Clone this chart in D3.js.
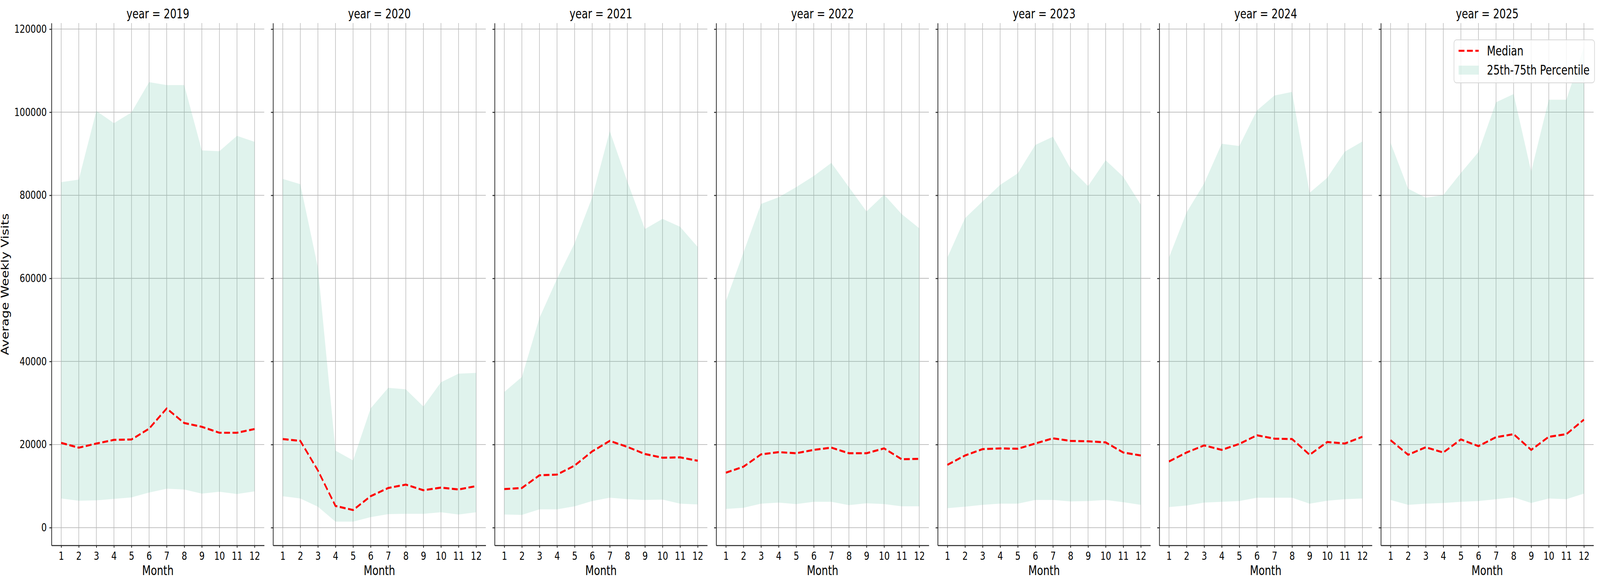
<!DOCTYPE html>
<html>
<head>
<meta charset="utf-8">
<script src="https://cdn.jsdelivr.net/npm/d3@7"></script>
<style>
  html, body { margin: 0; padding: 0; background: #fff; overflow: hidden; }
  svg { display: block; font-family: "DejaVu Sans", sans-serif; }
</style>
</head>
<body>
<div class="canvas"></div>
<script>
// months on the x axis and one panel per year
const months = [1, 2, 3, 4, 5, 6, 7, 8, 9, 10, 11, 12];
const years = [2019, 2020, 2021, 2022, 2023, 2024, 2025];
const yTicks = [0, 20000, 40000, 60000, 80000, 100000, 120000];

// median weekly visits, one row per year
const medianVisits = [
  [20400, 19240, 20230, 21120, 21210, 23820, 28670, 25170, 24270, 22830, 22830, 23730],
  [21320, 20870, 13760, 5220, 4230, 7560, 9540, 10350, 9000, 9630, 9180, 9990],
  [9270, 9540, 12590, 12770, 14930, 18350, 20870, 19430, 17720, 16820, 16910, 16100],
  [13220, 14660, 17630, 18170, 17900, 18710, 19250, 17900, 17900, 19070, 16460, 16550],
  [15110, 17360, 18890, 19070, 18980, 20240, 21500, 20870, 20780, 20510, 18080, 17360],
  [15920, 18080, 19790, 18710, 20150, 22220, 21410, 21320, 17540, 20600, 20240, 21860],
  [21050, 17540, 19340, 18080, 21230, 19610, 21770, 22490, 18710, 21860, 22490, 26000]
];

// 25th percentile
const p25Visits = [
  [7010, 6470, 6560, 6920, 7280, 8450, 9350, 9170, 8180, 8630, 8090, 8720],
  [7560, 7020, 5040, 1440, 1440, 2520, 3240, 3330, 3330, 3690, 3150, 3690],
  [3150, 3060, 4410, 4410, 5130, 6390, 7200, 6840, 6660, 6750, 5760, 5580],
  [4500, 4770, 5760, 6030, 5670, 6210, 6210, 5400, 5850, 5670, 5130, 5130],
  [4680, 5040, 5490, 5760, 5760, 6660, 6660, 6300, 6390, 6660, 6120, 5490],
  [4950, 5310, 6030, 6210, 6390, 7200, 7200, 7200, 5760, 6480, 6840, 7020],
  [6660, 5490, 5760, 5940, 6210, 6390, 6840, 7290, 5940, 7020, 6840, 8190]
];

// 75th percentile
const p75Visits = [
  [83150, 83780, 100300, 97350, 99950, 107240, 106520, 106520, 90790, 90610, 94300, 92860],
  [83930, 82670, 62610, 18530, 16190, 28700, 33650, 33290, 29150, 34990, 37060, 37240],
  [32660, 36250, 50470, 59910, 68460, 79520, 95450, 83300, 71880, 74310, 72420, 67560],
  [54520, 66210, 77910, 79520, 81950, 84650, 87800, 81950, 76110, 80150, 75480, 72060],
  [65040, 74490, 78530, 82490, 85280, 92120, 94100, 86450, 82220, 88430, 84470, 77730],
  [65040, 75840, 82850, 92390, 91850, 100400, 104000, 104890, 80600, 84200, 90500, 92930],
  [92660, 81590, 79430, 80060, 85370, 90410, 102380, 104360, 85730, 103000, 103000, 115700]
];

const width = 5250, height = 1500;
const left0 = 169, step = 727, panelW = 698;
const plotTop = 59, plotBottom = 1396;

// the window is narrower than the chart, so the drawing is scaled to fill it
const svg = d3.select('.canvas')
  .append('svg')
  .attr('viewBox', `0 0 ${width} ${height}`)
  .attr('preserveAspectRatio', 'none')
  .style('width', '100vw')
  .style('height', '100vh')
  .style('background', '#fff');

const x = d3.scaleLinear().domain([0.45, 12.55]).range([0, panelW]);
const y = d3.scaleLinear().domain([-4275, 121455]).range([plotBottom, plotTop]);

const area = d3.area()
  .x((d, i) => x(months[i]))
  .y0(d => y(d[0]))
  .y1(d => y(d[1]));

const line = d3.line()
  .x((d, i) => x(months[i]))
  .y(d => y(d));

years.forEach((year, k) => {
  const g = svg.append('g')
    .attr('transform', `translate(${left0 + k * step},0)`);

  // grid
  g.selectAll('.vgrid')
    .data(months)
    .join('line')
    .attr('x1', d => x(d)).attr('x2', d => x(d))
    .attr('y1', plotTop).attr('y2', plotBottom)
    .attr('stroke', '#b8b8b8')
    .attr('stroke-width', 1.8);

  g.selectAll('.hgrid')
    .data(yTicks)
    .join('line')
    .attr('x1', 0).attr('x2', panelW)
    .attr('y1', d => y(d)).attr('y2', d => y(d))
    .attr('stroke', '#b8b8b8')
    .attr('stroke-width', 1.8);

  // interquartile band
  const band = p25Visits[k].map((v, i) => [v, p75Visits[k][i]]);
  g.append('path')
    .datum(band)
    .attr('d', area)
    .attr('fill', '#66c2a5')
    .attr('fill-opacity', 0.2);

  // median
  g.append('path')
    .datum(medianVisits[k])
    .attr('d', line)
    .attr('fill', 'none')
    .attr('stroke', '#ff0000')
    .attr('stroke-width', 5.2)
    .attr('stroke-dasharray', '19.2,8.3');

  // axes
  const xAxis = g.append('g')
    .attr('transform', `translate(0,${plotBottom})`)
    .call(d3.axisBottom(x).tickValues(months).tickSize(6).tickSizeOuter(0).tickPadding(11.5));

  const yAxis = g.append('g')
    .call(d3.axisLeft(y).tickValues(yTicks).tickSize(7).tickSizeOuter(0).tickPadding(8.5)
      .tickFormat(k === 0 ? d3.format('d') : () => ''));

  [xAxis, yAxis].forEach(a => {
    a.select('.domain').attr('stroke', '#262626').attr('stroke-width', 2.4);
    a.selectAll('.tick line').attr('stroke', '#262626').attr('stroke-width', 2.4);
    a.selectAll('.tick text')
      .attr('fill', '#000')
      .style('font-family', '"DejaVu Sans", sans-serif')
      .style('font-size', '28px');
  });

  g.append('text')
    .attr('x', panelW / 2)
    .attr('y', 47)
    .attr('text-anchor', 'middle')
    .style('font-size', '33px')
    .text(`year = ${year}`);

  g.append('text')
    .attr('x', panelW / 2)
    .attr('y', 1472)
    .attr('text-anchor', 'middle')
    .style('font-size', '33px')
    .text('Month');
});

svg.append('text')
  .attr('transform', `translate(28.5,${(plotTop + plotBottom) / 2}) rotate(-90)`)
  .attr('text-anchor', 'middle')
  .style('font-size', '33px')
  .text('Average Weekly Visits');

// legend
const legend = svg.append('g').attr('transform', 'translate(4771,102)');
legend.append('rect')
  .attr('width', 461)
  .attr('height', 110)
  .attr('rx', 8)
  .attr('fill', '#fff')
  .attr('fill-opacity', 0.8)
  .attr('stroke', '#d6d6d6')
  .attr('stroke-width', 2);
legend.append('line')
  .attr('x1', 15).attr('x2', 81)
  .attr('y1', 28).attr('y2', 28)
  .attr('stroke', '#ff0000')
  .attr('stroke-width', 5.2)
  .attr('stroke-dasharray', '19.2,8.3');
legend.append('rect')
  .attr('x', 15).attr('y', 66)
  .attr('width', 66).attr('height', 23)
  .attr('fill', '#66c2a5')
  .attr('fill-opacity', 0.2);
legend.append('text')
  .attr('x', 108).attr('y', 40)
  .style('font-size', '33px')
  .text('Median');
legend.append('text')
  .attr('x', 108).attr('y', 89)
  .style('font-size', '33px')
  .text('25th-75th Percentile');
</script>
</body>
</html>
